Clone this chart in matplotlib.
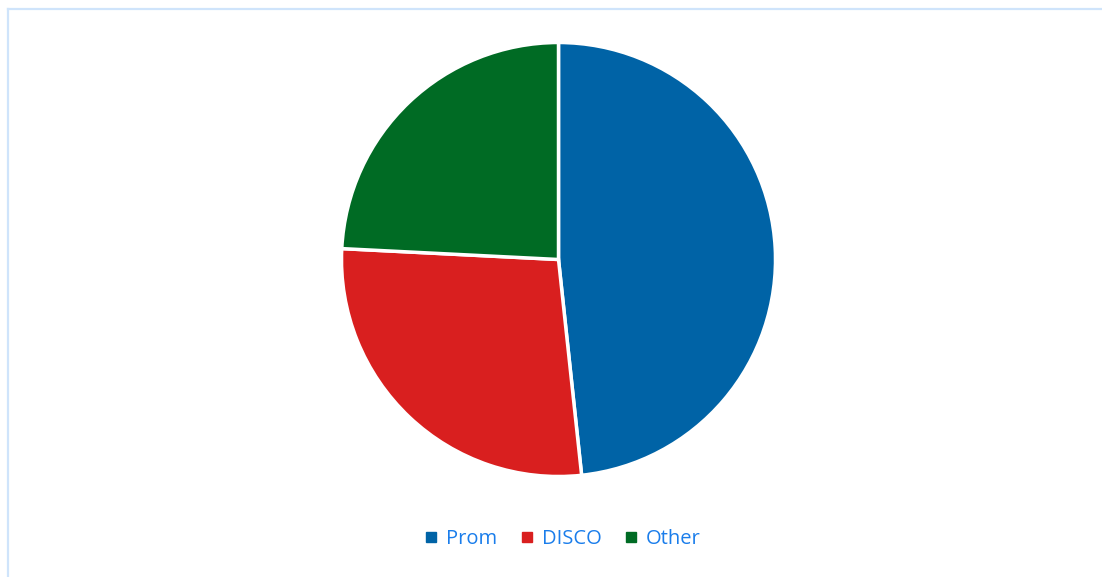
import matplotlib
matplotlib.use("Agg")
import matplotlib.pyplot as plt
from matplotlib.lines import Line2D

labels = ["Prom", "DISCO", "Other"]
shares = [48.3, 27.5, 24.2]
colors = ["#0063A6", "#D91F1F", "#006B24"]

W, H = 1102, 577
fig = plt.figure(figsize=(W / 100, H / 100), dpi=100)
fig.patch.set_facecolor("white")

# pie axes, sized in pixels so the circle is round
cx, cy, r = 558.5, 259.5, 217
ax = fig.add_axes([(cx - r) / W, 1 - (cy + r) / H, 2 * r / W, 2 * r / H])
wedges, _ = ax.pie(shares, colors=colors, startangle=90, counterclock=False,
                   radius=1.0,
                   wedgeprops=dict(edgecolor="white", linewidth=2.5))
ax.set_xlim(-1, 1)
ax.set_ylim(-1, 1)
ax.set_aspect("auto")
ax.axis("off")

# frame edge along top and left
edge = "#CFE4FB"
fig.add_artist(Line2D([7.5 / W, 1], [1 - 8.5 / H, 1 - 8.5 / H], color=edge, lw=1.6))
fig.add_artist(Line2D([7.5 / W, 7.5 / W], [0, 1 - 8.5 / H], color=edge, lw=1.6))

handles = [Line2D([], [], marker="s", ls="", markersize=6.5, color=c) for c in colors]
leg = fig.legend(handles, labels, loc="center", bbox_to_anchor=(563 / W, 1 - 539.5 / H),
                 ncol=3, frameon=False, handlelength=0.6, handletextpad=0.45,
                 columnspacing=1.15, prop={"family": "Open Sans", "size": 14.5})
for t in leg.get_texts():
    t.set_color("#1A7DEB")

fig.savefig("out.png", dpi=100)
